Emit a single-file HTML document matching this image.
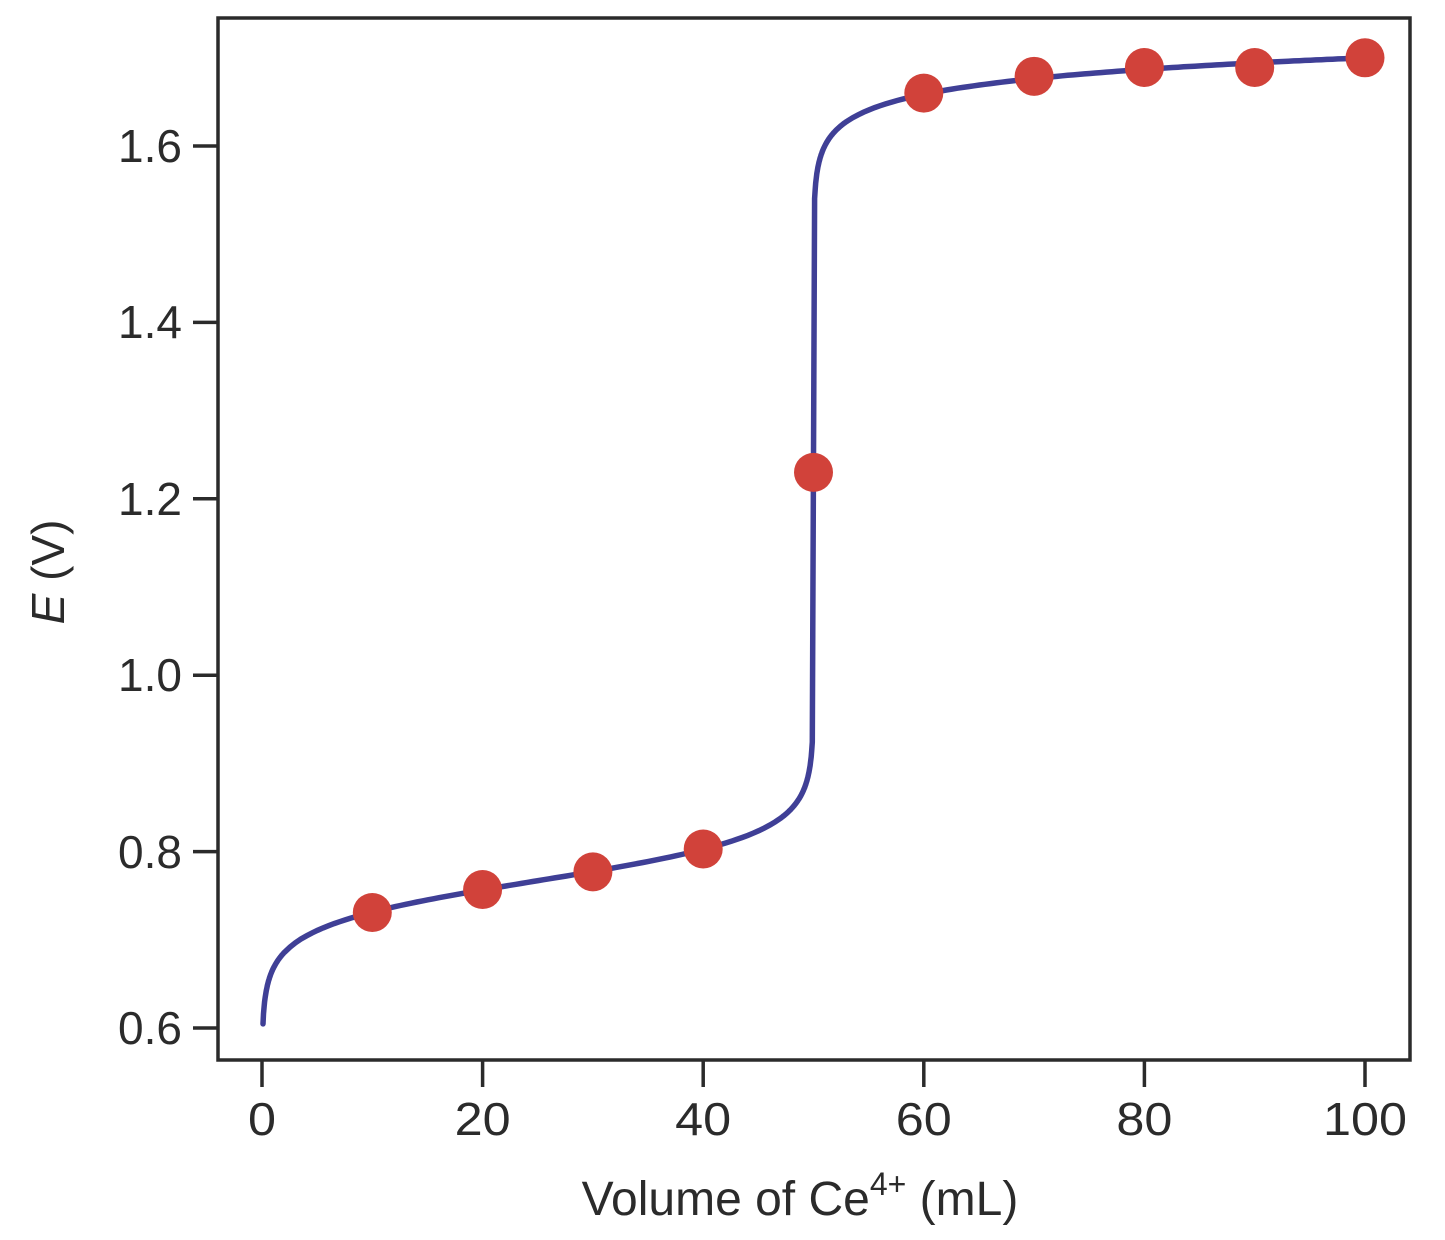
<!DOCTYPE html>
<html><head><meta charset="utf-8"><style>
html,body{margin:0;padding:0;background:#fff}
svg text{font-family:"Liberation Sans",sans-serif;fill:#2b2b2b}
</style></head><body>
<svg id="s" width="1445" height="1235" viewBox="0 0 1445 1235" xmlns="http://www.w3.org/2000/svg">
<rect x="218" y="18" width="1192" height="1042" fill="none" stroke="#2b2b2b" stroke-width="3.5"/>
<g stroke="#2b2b2b" stroke-width="3.5">
<line x1="262" y1="1060" x2="262" y2="1087"/>
<line x1="482.6" y1="1060" x2="482.6" y2="1087"/>
<line x1="703.2" y1="1060" x2="703.2" y2="1087"/>
<line x1="923.8" y1="1060" x2="923.8" y2="1087"/>
<line x1="1144.4" y1="1060" x2="1144.4" y2="1087"/>
<line x1="1365" y1="1060" x2="1365" y2="1087"/>
<line x1="193" y1="1028" x2="218" y2="1028"/>
<line x1="193" y1="851.6" x2="218" y2="851.6"/>
<line x1="193" y1="675.2" x2="218" y2="675.2"/>
<line x1="193" y1="498.8" x2="218" y2="498.8"/>
<line x1="193" y1="322.4" x2="218" y2="322.4"/>
<line x1="193" y1="146" x2="218" y2="146"/>
</g>
<g font-size="46" text-anchor="middle">
<text x="262" y="1135" textLength="28" lengthAdjust="spacingAndGlyphs">0</text>
<text x="482.6" y="1135" textLength="56" lengthAdjust="spacingAndGlyphs">20</text>
<text x="703.2" y="1135" textLength="56" lengthAdjust="spacingAndGlyphs">40</text>
<text x="923.8" y="1135" textLength="56" lengthAdjust="spacingAndGlyphs">60</text>
<text x="1144.4" y="1135" textLength="56" lengthAdjust="spacingAndGlyphs">80</text>
<text x="1365" y="1135" textLength="84" lengthAdjust="spacingAndGlyphs">100</text>
</g>
<g font-size="46" text-anchor="end">
<text x="182" y="1044">0.6</text>
<text x="182" y="868">0.8</text>
<text x="182" y="691">1.0</text>
<text x="182" y="515">1.2</text>
<text x="182" y="338">1.4</text>
<text x="182" y="162">1.6</text>
</g>
<text x="800" y="1215" font-size="48" text-anchor="middle">Volume of Ce<tspan font-size="32" dy="-20">4+</tspan><tspan dy="20"> (mL)</tspan></text>
<text transform="translate(64,572) rotate(-90)" font-size="46" text-anchor="middle"><tspan font-style="italic">E</tspan> (V)</text>
<path id="c" fill="none" stroke="#3f3f96" stroke-width="5.5" stroke-linecap="round"/>
<g id="d" fill="#d1423a"></g>
</svg>
<script>
function X(v){return 262+v*11.03}
function Y(e){return 1028-(e-0.6)*882}
var p=[],v;
for(v=0.09;v<49.9;v+= (v<2||v>47)?0.05:0.5){p.push(X(v).toFixed(1)+","+Y(0.767+0.05916*Math.log10(v/(50-v))).toFixed(1));}
for(v=50.1;v<=100;v+=(v<53)?0.05:0.5){p.push(X(v).toFixed(1)+","+Y(1.70+0.05916*Math.log10((v-50)/50)).toFixed(1));}
document.getElementById("c").setAttribute("d","M"+p.join(" L"));
var pts=[[10,0.731],[20,0.757],[30,0.777],[40,0.803],[50,1.23],[60,1.66],[70,1.679],[80,1.689],[90,1.689],[100,1.70]];
var g=document.getElementById("d"),h="";
pts.forEach(function(q){h+='<circle cx="'+X(q[0])+'" cy="'+Y(q[1])+'" r="19.5"/>';});
g.innerHTML=h;
</script>
</body></html>
